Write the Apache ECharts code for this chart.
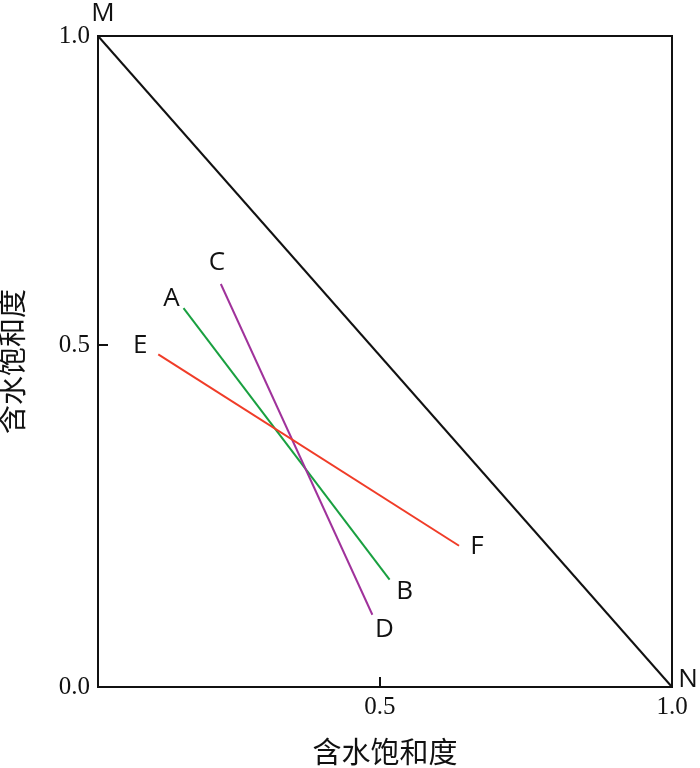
<!DOCTYPE html>
<html>
<head>
<meta charset="utf-8">
<script src="https://cdn.jsdelivr.net/npm/echarts@6/dist/echarts.min.js"></script>
<style>
  html, body { margin: 0; padding: 0; background: #fff; }
  #chart { width: 700px; height: 768px; }
</style>
</head>
<body>
<div id="chart"></div>
<script>
  // tick positions as they sit in the figure, with the labels printed there
  var xTickValues = [0.491, 1];
  var xTickLabels = ['0.5', '1.0'];
  var yTickValues = [0, 0.525, 1];
  var yTickLabels = ['0.0', '0.5', '1.0'];

  // diagonal M -> N
  var diagNames = ['M', 'N'];
  var diagData = [[0, 1], [1, 0]];

  // segments
  var abNames = ['A', 'B'];
  var abData = [[0.149, 0.582], [0.508, 0.165]];
  var cdNames = ['C', 'D'];
  var cdData = [[0.214, 0.619], [0.478, 0.111]];
  var efNames = ['E', 'F'];
  var efData = [[0.105, 0.511], [0.629, 0.217]];

  var axisTitle = '含水饱和度';

  var chart = echarts.init(document.getElementById('chart'));

  function pickLabel(values, labels) {
    return function (v) {
      for (var i = 0; i < values.length; i++) {
        if (Math.abs(values[i] - v) < 1e-6) return labels[i];
      }
      return '';
    };
  }

  function segment(names, data, color, offsets) {
    return {
      type: 'line',
      symbol: 'circle',
      symbolSize: 0.1,
      showSymbol: true,
      silent: true,
      animation: false,
      itemStyle: { color: color },
      lineStyle: { color: color, width: 2 },
      data: data.map(function (p, i) {
        return {
          value: p,
          label: {
            show: true,
            formatter: names[i],
            position: 'inside',
            offset: offsets[i],
            color: '#111',
            fontFamily: 'Open Sans',
            fontSize: 26
          }
        };
      })
    };
  }

  chart.setOption({
    backgroundColor: '#fff',
    grid: {
      left: 98,
      right: 28,
      top: 36,
      bottom: 81,
      outerBoundsMode: 'none',
      containLabel: false,
      show: true,
      borderColor: '#111',
      borderWidth: 2
    },
    xAxis: {
      type: 'value',
      min: 0,
      max: 1,
      name: axisTitle,
      nameLocation: 'middle',
      nameGap: 50,
      nameTextStyle: { fontFamily: 'Noto Sans CJK SC', fontSize: 29, color: '#111' },
      splitLine: { show: false },
      axisLine: { lineStyle: { color: '#111', width: 2 } },
      axisTick: {
        inside: true,
        length: 10,
        customValues: [0.491],
        lineStyle: { color: '#111', width: 2 }
      },
      axisLabel: {
        customValues: xTickValues,
        formatter: pickLabel(xTickValues, xTickLabels),
        margin: 8,
        color: '#111',
        fontFamily: 'Liberation Serif',
        fontSize: 25
      }
    },
    yAxis: {
      type: 'value',
      min: 0,
      max: 1,
      name: axisTitle,
      nameLocation: 'middle',
      nameGap: 72,
      nameTextStyle: { fontFamily: 'Noto Sans CJK SC', fontSize: 29, color: '#111' },
      splitLine: { show: false },
      axisLine: { lineStyle: { color: '#111', width: 2 } },
      axisTick: {
        inside: true,
        length: 10,
        customValues: [0.525],
        lineStyle: { color: '#111', width: 2 }
      },
      axisLabel: {
        customValues: yTickValues,
        formatter: pickLabel(yTickValues, yTickLabels),
        margin: 8,
        color: '#111',
        fontFamily: 'Liberation Serif',
        fontSize: 25
      }
    },
    series: [
      segment(diagNames, diagData, '#111', [[5, -22], [16, -7]]),
      segment(abNames, abData, '#19A040', [[-12, -10], [15, 12]]),
      segment(cdNames, cdData, '#A0329B', [[-4, -21], [12, 15]]),
      segment(efNames, efData, '#F03C28', [[-18, -9], [18, 1]])
    ]
  });
</script>
</body>
</html>
